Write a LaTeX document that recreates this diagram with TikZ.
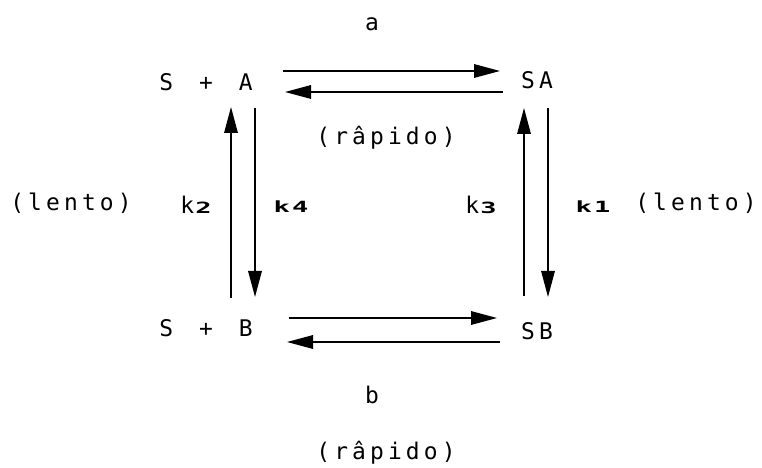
\documentclass[tikz,border=0pt]{standalone}
\usepackage{fontspec}
\usetikzlibrary{arrows.meta}
\newfontfamily\dmfont[LetterSpace=18]{DejaVu Sans Mono}
\newfontfamily\dmsmall[LetterSpace=8]{DejaVu Sans Mono Bold}
\newcommand{\smk}[1]{\scalebox{1.75}[1]{\dmsmall\fontsize{15.5}{17}\selectfont #1}}
\begin{document}
\begin{tikzpicture}[x=1bp,y=-1bp,
  lbl/.style={inner sep=0pt, font=\dmfont\fontsize{23}{27}\selectfont},
  arr/.style={line width=1.6bp, -{Triangle[length=26bp,width=13.5bp]}}]
\useasboundingbox[fill=white] (0,0) rectangle (762,468);
% species
\node[lbl] (SpA) at (206,82) {S \hspace{8bp}+ \hspace{8bp}A};
\node[lbl] (SA)  at (537,80) {SA};
\node[lbl] (SpB) at (206,328) {S \hspace{8bp}+ \hspace{8bp}B};
\node[lbl] (SB)  at (537,331) {SB};
% labels
\node[lbl] (la) at (372,24) {a};
\node[lbl] (lb) at (372,395) {b};
\node[lbl] (rapT) at (386,138) {(râpido)};
\node[lbl] (rapB) at (386,453) {(râpido)};
\node[lbl] (lenL) at (71,203) {(lento)};
\node[lbl] (lenR) at (696,203) {(lento)};
\node[lbl] (k2) at (196,205) {k\hspace{1bp}\smk{2}};
\node[lbl] (k4) at (291,207) {\smk{k4}};
\node[lbl] (k3) at (481,205) {k\hspace{1bp}\smk{3}};
\node[lbl] (k1) at (593,207) {\smk{k1}};
% horizontal arrows
\draw[arr] ([shift={(77,-11)}]SpA.center) -- ([shift={(-37,-9)}]SA.center);
\draw[arr] ([shift={(-34,12)}]SA.center) -- ([shift={(79,10)}]SpA.center);
\draw[arr] ([shift={(83,-10)}]SpB.center) -- ([shift={(-40,-13)}]SB.center);
\draw[arr] ([shift={(-37,11)}]SB.center) -- ([shift={(81,14)}]SpB.center);
% vertical arrows
\draw[arr] ([shift={(25,-30)}]SpB.center) -- ([shift={(25,25)}]SpA.center);
\draw[arr] ([shift={(49,26)}]SpA.center) -- ([shift={(49,-31)}]SpB.center);
\draw[arr] ([shift={(-13,-35)}]SB.center) -- ([shift={(-13,28)}]SA.center);
\draw[arr] ([shift={(11,28)}]SA.center) -- ([shift={(11,-34)}]SB.center);
\end{tikzpicture}
\end{document}
